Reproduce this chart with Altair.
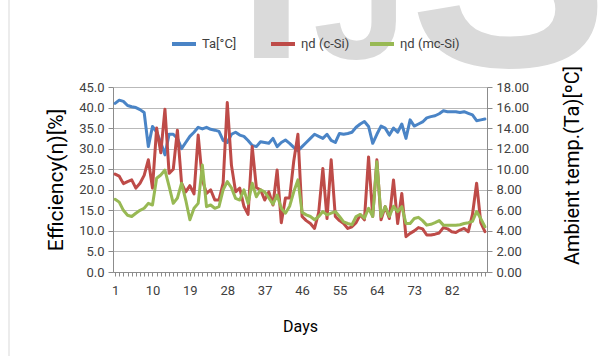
import altair as alt
import pandas as pd

days = list(range(1, 91))

ta = [16.40, 16.72, 16.60, 16.20, 16.08, 16.00, 15.80, 15.52, 12.20, 14.16,
      13.60, 12.60, 11.40, 13.40, 13.40, 13.00, 12.00, 12.60, 13.20, 13.60,
      14.08, 13.92, 14.08, 13.88, 13.80, 13.68, 12.80, 12.60, 13.40, 13.60,
      13.32, 13.20, 12.80, 12.32, 12.20, 12.68, 12.60, 12.52, 13.00, 12.20,
      12.60, 12.84, 12.52, 12.12, 11.80, 12.20, 12.60, 13.00, 13.40, 13.20,
      13.00, 13.40, 12.80, 12.60, 13.48, 13.40, 13.48, 13.60, 14.08, 14.40,
      14.64, 14.16, 12.52, 13.40, 14.20, 14.00, 13.32, 14.00, 13.60, 14.40,
      13.00, 14.80, 14.20, 14.40, 14.60, 15.00, 15.12, 15.20, 15.40, 15.68,
      15.60, 15.60, 15.60, 15.52, 15.60, 15.44, 15.28, 14.72, 14.80, 14.88]

c_si = [23.8, 23.3, 21.5, 22.0, 22.4, 20.4, 21.6, 23.5, 27.3, 20.4,
        35.0, 29.0, 39.6, 24.0, 25.0, 34.5, 21.6, 19.5, 21.0, 19.0,
        33.3, 22.4, 19.1, 20.0, 17.5, 17.5, 21.6, 41.2, 26.0, 19.5,
        20.4, 16.0, 14.0, 30.5, 20.5, 20.0, 17.5, 19.5, 16.3, 24.8,
        12.0, 18.0, 18.0, 27.0, 33.5, 13.5, 12.5, 11.8, 10.6, 14.5,
        25.2, 13.0, 27.3, 13.5, 12.5, 11.8, 10.6, 11.0, 12.0, 13.9,
        12.7, 28.0, 13.5, 27.3, 12.7, 15.9, 13.0, 22.4, 11.8, 19.1,
        8.6, 9.4, 10.0, 10.8, 10.5, 9.0, 9.0, 9.2, 9.5, 10.8,
        10.5, 9.8, 9.6, 10.2, 10.6, 9.8, 14.0, 21.6, 12.0, 9.8]

mc_si = [17.7, 17.0, 15.0, 13.8, 13.5, 14.3, 15.0, 15.5, 16.7, 16.3,
         22.8, 23.6, 24.8, 20.8, 16.7, 18.0, 21.6, 17.5, 12.7, 15.5,
         16.7, 26.0, 15.9, 16.3, 15.5, 15.9, 20.0, 22.0, 20.5, 17.9,
         17.5, 20.0, 16.7, 21.6, 18.3, 20.0, 19.5, 18.0, 16.5, 18.7,
         15.5, 14.3, 16.0, 19.5, 22.4, 14.5, 13.9, 13.5, 12.7, 13.5,
         14.7, 13.9, 14.3, 14.7, 13.5, 12.2, 11.8, 11.5, 13.5, 14.0,
         13.1, 15.5, 13.5, 26.8, 13.5, 15.9, 13.5, 16.0, 14.7, 15.9,
         11.8, 11.8, 13.0, 13.3, 12.5, 11.4, 11.6, 12.0, 12.5, 11.4,
         11.4, 11.4, 11.4, 11.5, 11.8, 12.0, 12.3, 14.7, 13.0, 11.0]

series_names = ["Ta[°C]", "ηd (c-Si)", "ηd (mc-Si)"]
series_colors = ["#4A84C6", "#BE4B48", "#98B954"]
left_ticks = [0, 5, 10, 15, 20, 25, 30, 35, 40, 45]
right_ticks = [0, 2, 4, 6, 8, 10, 12, 14, 16, 18]
watermark_letters = ["I", "J", "S"]

FONT = "Roboto"
W, H = 374, 185
PL, PT = 113, 87

df_ta = pd.DataFrame({"day": days, "value": ta, "series": series_names[0]})
df_c = pd.DataFrame({"day": days, "value": c_si, "series": series_names[1]})
df_m = pd.DataFrame({"day": days, "value": mc_si, "series": series_names[2]})

x_enc = alt.X(
    "day:Q",
    scale=alt.Scale(domain=[0.5, 90.5], nice=False, zero=False),
    axis=alt.Axis(
        values=days,
        labelExpr="(datum.value - 1) % 9 == 0 ? datum.label : ''",
        labelOverlap=False,
        labelBound=False,
        format="d",
        grid=False,
        tickSize=4,
        tickColor="#8c8c8c",
        domainColor="#8c8c8c",
        labelPadding=8,
        labelFont=FONT,
        labelFontSize=13,
        labelColor="#404040",
        title="Days",
        titleFont=FONT,
        titleFontSize=16,
        titleFontWeight="normal",
        titleColor="#000000",
        titleX=W / 2,
        titleY=54,
        titleBaseline="middle",
        titleAlign="center",
    ),
)

color_enc = alt.Color(
    "series:N",
    scale=alt.Scale(domain=series_names, range=series_colors),
    legend=alt.Legend(
        orient="none",
        legendX=57,
        legendY=-57,
        direction="horizontal",
        columns=3,
        title=None,
        symbolType="stroke",
        symbolStrokeWidth=4,
        symbolSize=576,
        labelFont=FONT,
        labelFontSize=13,
        labelColor="#404040",
        labelOffset=4,
        gridAlign="all",
        columnPadding=1,
    ),
)

left_axis = alt.Axis(
    values=left_ticks,
    format=".1f",
    orient="left",
    grid=True,
    gridColor="#b9b9b9",
    domainColor="#8c8c8c",
    tickColor="#8c8c8c",
    tickSize=5,
    labelPadding=4,
    labelFont=FONT,
    labelFontSize=13,
    labelColor="#404040",
    title="Efficiency(η)[%]",
    titleFont=FONT,
    titleFontSize=21,
    titleFontWeight="normal",
    titleColor="#000000",
    titleAngle=270,
    titleX=-57,
    titleY=H / 2,
    titleAlign="center",
    titleBaseline="middle",
)

right_axis = alt.Axis(
    values=right_ticks,
    format=".2f",
    orient="right",
    grid=False,
    domainColor="#8c8c8c",
    tickColor="#8c8c8c",
    tickSize=5,
    labelPadding=4,
    labelFont=FONT,
    labelFontSize=13,
    labelColor="#404040",
    title="Ambient temp.(Ta)[ºC]",
    titleFont=FONT,
    titleFontSize=20,
    titleFontWeight="normal",
    titleColor="#000000",
    titleAngle=270,
    titleX=85,
    titleY=78,
    titleAlign="center",
    titleBaseline="middle",
)


def wm(letter, size, x, y):
    return alt.Chart(pd.DataFrame({"t": [letter]})).mark_text(
        font="Liberation Sans", fontWeight="bold", fontSize=size, color="#dadada",
        align="left", baseline="alphabetic"
    ).encode(text="t:N", x=alt.value(x - PL), y=alt.value(y - PT))


wm_i = wm(watermark_letters[0], 240, 238, 58)
wm_j = wm(watermark_letters[1], 170, 313, 58)
wm_s = wm(watermark_letters[2], 300, 409, 66)

frame = alt.Chart(pd.DataFrame({"a": [0]})).mark_rule(color="#d9d9d9", strokeWidth=1).encode(
    x=alt.value(9 - PL), y=alt.value(-PT), y2=alt.value(356 - PT)
)

line_kw = dict(strokeWidth=3, strokeJoin="round", strokeCap="round")

right_layer = alt.Chart(df_ta).mark_line(**line_kw).encode(
    x=x_enc,
    y=alt.Y("value:Q", scale=alt.Scale(domain=[0, 18], nice=False), axis=right_axis),
    color=color_enc,
)

red_layer = alt.Chart(df_c).mark_line(**line_kw).encode(
    x=x_enc,
    y=alt.Y("value:Q", scale=alt.Scale(domain=[0, 45], nice=False), axis=left_axis),
    color=color_enc,
)
green_layer = alt.Chart(df_m).mark_line(**line_kw).encode(
    x=x_enc,
    y=alt.Y("value:Q", scale=alt.Scale(domain=[0, 45], nice=False), axis=left_axis),
    color=color_enc,
)

left_layer = alt.layer(red_layer, green_layer)

chart = alt.layer(wm_i, wm_j, wm_s, frame, right_layer, left_layer).resolve_scale(
    y="independent"
).properties(
    width=W,
    height=H,
    autosize=alt.AutoSizeParams(type="none"),
    padding={"left": PL, "top": PT, "right": 616 - PL - W, "bottom": 356 - PT - H},
    background="white",
).configure_view(stroke=None)

chart.save("out.html", embed_options={"renderer": "svg", "actions": False})
